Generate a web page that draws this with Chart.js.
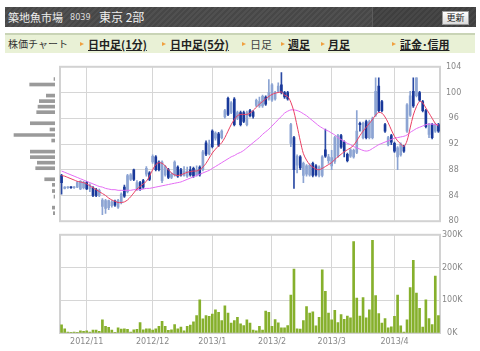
<!DOCTYPE html>
<html>
<head>
<meta charset="utf-8">
<script src="https://cdn.jsdelivr.net/npm/chart.js@4.4.1/dist/chart.umd.min.js"></script>
<style>
  body { margin: 0; width: 480px; height: 351px; background: #fff; position: relative; overflow: hidden; font-family: "Noto Sans CJK JP", sans-serif; }
  #hdr { position: absolute; left: 5px; top: 7px; width: 470px; height: 20px; background: repeating-linear-gradient(135deg, #505050 0 2px, #474747 2px 4px); }
  #hdr .side { position: absolute; left: 367px; top: 0; width: 103px; height: 20px; border-left: 1px solid #5c5c5c; background: repeating-linear-gradient(135deg, #474747 0 2px, #3f3f3f 2px 4px); }
  #hdr .t { position: absolute; top: 0; line-height: 20px; color: #eee; white-space: nowrap; }
  #btn { position: absolute; left: 437px; top: 4px; width: 25px; height: 12px; background: linear-gradient(#fff, #dcdcdc); border: 1px solid #999; font-size: 9px; line-height: 12px; text-align: center; color: #222; }
  #nav { position: absolute; left: 5px; top: 33px; width: 470px; height: 18px; background: #e9f1d6; border-top: 2px solid #c9d4b6; }
  #nav span { position: absolute; top: 0; line-height: 18px; white-space: nowrap; color: #222; }
  #nav .on { font-weight: bold; text-decoration: underline; font-size: 11px; }
  #nav i { position: absolute; top: 7px; width: 0; height: 0; border-left: 4px solid #f0a040; border-top: 2.5px solid transparent; border-bottom: 2.5px solid transparent; }
  canvas { position: absolute; }
</style>
</head>
<body>
<div id="hdr">
  <div class="side"></div>
  <span class="t" style="left:3px;font-size:11px">築地魚市場</span>
  <span class="t" style="left:65px;font-size:9px;font-family:'DejaVu Sans Condensed','DejaVu Sans';color:#ddd">8039</span>
  <span class="t" style="left:94px;font-size:12px">東京 2部</span>
  <div id="btn">更新</div>
</div>
<div id="nav">
  <span style="left:3px;font-size:10px;color:#333">株価チャート</span>
  <i style="left:75px"></i><span class="on" style="left:83px">日中足(1分)</span>
  <i style="left:157px"></i><span class="on" style="left:165px">日中足(5分)</span>
  <i style="left:237px"></i><span style="left:245px;font-size:11px;color:#444">日足</span>
  <i style="left:276px"></i><span class="on" style="left:283px">週足</span>
  <i style="left:316px"></i><span class="on" style="left:323px">月足</span>
  <i style="left:387px"></i><span class="on" style="left:395px">証金･信用</span>
</div>
<canvas id="hist" width="55" height="176" style="left:0;top:56px;width:55px;height:176px"></canvas>
<canvas id="price" width="480" height="176" style="left:0;top:56px;width:480px;height:176px"></canvas>
<canvas id="vol" width="480" height="123" style="left:0;top:228px;width:480px;height:123px"></canvas>
<script>
// trading days, 2012/10/22 .. 2013/4/19
const dates = [
  "2012/10/22","2012/10/23","2012/10/24","2012/10/25","2012/10/26","2012/10/29","2012/10/30","2012/10/31",
  "2012/11/1","2012/11/2","2012/11/5","2012/11/6","2012/11/7","2012/11/8","2012/11/9","2012/11/12","2012/11/13",
  "2012/11/14","2012/11/15","2012/11/16","2012/11/19","2012/11/20","2012/11/21","2012/11/22","2012/11/26",
  "2012/11/27","2012/11/28","2012/11/29","2012/11/30",
  "2012/12/3","2012/12/4","2012/12/5","2012/12/6","2012/12/7","2012/12/10","2012/12/11","2012/12/12","2012/12/13",
  "2012/12/14","2012/12/17","2012/12/18","2012/12/19","2012/12/20","2012/12/21","2012/12/25","2012/12/26",
  "2012/12/27","2012/12/28",
  "2013/1/4","2013/1/7","2013/1/8","2013/1/9","2013/1/10","2013/1/11","2013/1/15","2013/1/16","2013/1/17",
  "2013/1/18","2013/1/21","2013/1/22","2013/1/23","2013/1/24","2013/1/25","2013/1/28","2013/1/29","2013/1/30",
  "2013/1/31",
  "2013/2/1","2013/2/4","2013/2/5","2013/2/6","2013/2/7","2013/2/8","2013/2/12","2013/2/13","2013/2/14",
  "2013/2/15","2013/2/18","2013/2/19","2013/2/20","2013/2/21","2013/2/22","2013/2/25","2013/2/26","2013/2/27",
  "2013/2/28",
  "2013/3/1","2013/3/4","2013/3/5","2013/3/6","2013/3/7","2013/3/8","2013/3/11","2013/3/12","2013/3/13",
  "2013/3/14","2013/3/15","2013/3/18","2013/3/19","2013/3/21","2013/3/22","2013/3/25","2013/3/26","2013/3/27",
  "2013/3/28","2013/3/29",
  "2013/4/1","2013/4/2","2013/4/3","2013/4/4","2013/4/5","2013/4/8","2013/4/9","2013/4/10","2013/4/11",
  "2013/4/12","2013/4/15","2013/4/16","2013/4/17","2013/4/18","2013/4/19"
];

const openPrices = [
  87.1,85.1,85.2,85.3,85.2,85.3,85.0,85.2,86.0,85.0,85.2,84.9,84.0,82.3,82.0,82.1,82.4,83.1,82.2,82.9,
  85.3,84.6,86.5,88.0,85.0,86.0,86.3,87.3,87.5,89.2,90.0,89.2,86.3,87.2,88.0,86.8,87.2,88.4,88.0,87.1,
  87.0,88.0,88.2,87.2,88.4,88.0,92.2,90.5,94.0,92.9,93.6,93.0,96.2,99.1,96.9,99.0,96.0,96.9,96.9,95.0,
  97.2,97.0,98.0,97.9,97.9,99.3,99.0,98.8,99.0,100.2,101.2,100.0,100.0,92.1,93.0,88.7,90.0,87.1,87.3,87.2,
  89.0,88.6,87.1,87.1,91.1,89.4,88.6,89.3,90.1,93.3,92.3,90.4,90.1,90.0,90.7,95.2,93.0,95.5,93.0,93.0,
  96.5,101.0,98.6,95.0,91.9,93.3,92.1,90.0,90.3,91.6,94.0,96.5,100.2,99.5,100.0,98.6,97.2,93.5,95.0,94.0,
  95.0
];
const highPrices = [
  87.3,85.4,85.4,85.4,85.4,86.2,86.3,86.2,86.2,85.8,85.4,85.1,85.0,83.5,83.4,83.3,83.2,83.3,83.4,84.4,
  85.6,87.3,87.4,88.1,86.3,86.2,86.5,88.5,87.7,90.3,90.2,89.4,89.4,88.7,88.2,87.5,89.4,88.6,88.2,88.5,
  88.4,88.5,88.4,88.6,88.6,91.0,92.5,92.6,94.2,93.9,93.8,94.2,97.4,99.3,98.6,99.2,97.1,97.1,97.1,97.1,
  97.4,97.2,99.0,99.3,99.6,99.5,102.0,101.4,100.2,101.5,103.1,100.2,100.2,95.2,93.2,90.3,90.2,89.2,88.8,88.9,
  89.2,88.8,88.6,90.2,94.3,90.4,91.0,93.2,93.5,93.5,92.5,90.6,91.3,91.2,97.2,95.4,95.4,95.7,95.7,96.2,
  102.3,102.3,98.8,95.2,93.2,93.5,92.3,91.6,92.2,91.8,98.3,100.2,102.3,102.3,100.2,98.8,97.4,95.2,95.2,95.2,
  95.2
];
const lowPrices = [
  84.2,85.0,85.1,85.1,85.1,85.2,84.9,85.0,84.9,84.6,83.8,83.8,83.8,81.0,81.2,81.8,82.2,82.3,82.0,82.7,
  83.7,84.4,86.3,86.3,84.8,84.8,85.1,87.0,86.3,89.0,87.8,87.8,86.0,87.0,86.6,86.6,87.0,86.8,87.0,87.0,
  86.8,87.0,86.8,87.0,87.0,87.8,90.2,90.3,91.4,92.6,91.6,92.8,96.0,96.4,96.7,94.8,95.8,94.8,95.3,94.8,
  96.2,96.0,97.8,97.7,97.7,98.0,98.8,98.6,98.8,100.0,99.8,99.1,98.8,91.6,85.1,87.5,88.0,86.0,87.0,87.0,
  86.9,87.0,86.9,86.9,89.9,89.0,88.0,89.0,89.9,91.3,90.0,89.2,89.9,89.8,90.5,94.0,92.8,92.8,92.8,92.8,
  96.3,97.0,97.0,93.8,91.7,91.9,90.7,88.0,90.1,90.7,93.8,96.3,97.7,99.3,98.6,97.0,94.5,93.0,92.8,93.8,
  93.8
];
const closePrices = [
  86.0,85.3,85.3,85.2,85.3,86.0,86.2,86.0,85.0,85.6,84.0,84.0,84.8,83.3,83.2,83.2,83.0,82.5,83.2,84.2,
  83.9,87.1,87.2,86.5,86.0,85.0,85.3,88.2,86.5,90.1,88.0,88.0,89.2,88.5,86.8,87.3,89.2,87.0,87.2,87.8,
  87.8,87.2,87.0,88.0,87.2,90.8,90.4,92.0,91.6,93.7,91.8,94.0,97.2,96.6,98.4,95.0,96.9,95.0,95.5,96.9,
  96.4,96.3,98.8,98.6,99.4,98.2,100.0,101.2,100.0,101.0,100.0,99.3,99.0,95.0,88.0,90.1,88.3,89.0,88.6,88.7,
  87.1,87.2,88.4,90.0,90.1,90.0,89.9,93.0,93.3,91.5,90.9,89.4,91.1,91.0,94.0,95.0,95.2,93.0,95.5,96.0,
  100.2,97.2,97.2,94.0,93.0,92.3,90.9,91.4,92.0,90.9,98.1,99.5,97.9,102.3,98.8,97.2,94.7,95.0,93.0,95.0,
  94.0
];

// moving averages (short: red, long: violet)
const avgShort = [
  87.1,87.0,86.8,86.6,86.4,86.2,86.1,86.0,85.8,85.5,85.2,84.9,84.6,84.3,84.0,83.6,83.3,83.1,82.9,82.9,
  83.0,83.3,83.8,84.4,85.0,85.4,85.8,86.2,87.0,88.0,88.8,89.1,89.0,88.6,88.0,87.5,87.2,87.1,87.2,87.4,
  87.6,87.7,87.8,87.8,88.0,88.4,89.0,89.8,90.6,91.2,91.7,92.2,93.0,94.0,95.0,95.8,96.4,96.6,96.6,96.6,
  96.8,97.2,97.7,98.2,98.6,99.0,99.4,99.7,99.9,100.0,100.1,99.6,99.4,98.5,97.0,94.8,92.5,90.5,89.5,88.8,
  88.4,88.1,88.0,88.2,88.5,88.8,89.1,89.6,90.0,90.4,90.8,91.1,91.4,91.8,92.5,93.3,94.0,94.6,95.2,95.8,
  96.5,96.9,96.8,96.2,95.3,94.2,93.2,92.5,92.0,91.6,92.5,94.5,96.5,97.8,98.6,98.4,97.6,96.8,96.0,95.2,
  94.8
];
const avgLong = [
  87.8,87.6,87.4,87.2,87.0,86.8,86.6,86.4,86.2,86.0,85.8,85.6,85.4,85.3,85.1,85.0,84.9,84.9,84.8,84.8,
  84.8,84.8,84.8,84.9,84.9,84.9,85.0,85.1,85.1,85.2,85.3,85.4,85.5,85.6,85.7,85.8,85.9,86.0,86.1,86.3,
  86.5,86.7,86.9,87.1,87.3,87.5,87.7,87.9,88.2,88.5,88.8,89.1,89.4,89.7,90.0,90.2,90.5,90.7,91.0,91.4,
  91.8,92.2,92.6,93.0,93.5,93.9,94.3,94.8,95.3,95.8,96.3,96.8,97.1,97.3,97.3,97.2,97.0,96.7,96.4,96.0,
  95.6,95.2,94.8,94.5,94.2,94.0,93.7,93.4,93.0,92.7,92.4,92.1,91.9,91.6,91.4,91.2,91.0,90.9,91.0,91.3,
  91.6,91.9,92.1,92.3,92.5,92.7,92.9,93.0,93.1,93.2,93.4,93.8,94.1,94.4,94.6,94.8,95.0,95.1,95.1,95.0,
  95.0
];

// volume, thousand shares
const volumes = [
  25,13,3,1,3,1,7,5,7,3,9,9,5,40,20,17,9,1,16,12,
  13,11,3,10,11,32,10,13,13,9,13,20,36,20,8,10,26,13,18,7,
  20,24,34,53,101,43,53,51,58,71,63,38,83,61,30,38,48,28,23,40,
  30,9,7,20,9,67,63,20,41,31,16,16,23,116,195,13,12,38,81,61,
  65,22,48,193,127,61,40,69,32,56,42,52,46,279,107,52,108,46,71,283,
  114,59,30,44,16,19,51,116,22,3,40,139,222,122,75,18,101,44,26,174,
  53
];

// volume by price (left histogram)
const priceLevels = [101.4,100.6,99.0,98.2,97.4,96.6,95.0,94.1,93.3,92.5,90.9,90.1,89.3,88.5,86.9,86.1,85.2,84.4,82.8,82.0];
const levelVolumes = [10,253,87,157,170,183,247,50,410,33,247,247,177,193,103,27,27,10,27,17];

const priceMin = 80, priceMax = 104, priceStep = 4;
const volMax = 300, volStep = 100;

const monthStarts = dates.map((d, i) => i > 0 && d.split("/")[1] !== dates[i - 1].split("/")[1]);
const monthLabel = (i) => (monthStarts[i] ? dates[i].slice(0, dates[i].lastIndexOf("/")) : "");
const isUp = closePrices.map((c, i) => c >= openPrices[i]);
const gridColor = "#d6d6d6";
const tickFont = { family: "DejaVu Sans", size: 8 };

const frame = {
  id: "frame",
  beforeDatasetsDraw(chart) {
    const { ctx, chartArea: a } = chart;
    ctx.save();
    ctx.strokeStyle = "#d2d2d2";
    ctx.lineWidth = 2;
    ctx.strokeRect(a.left, a.top, a.right - a.left, a.bottom - a.top);
    ctx.restore();
  },
};

Chart.defaults.animation = false;
Chart.defaults.plugins.legend.display = false;
Chart.defaults.plugins.tooltip.enabled = false;
Chart.defaults.responsive = false;

const monthGrid = {
  offset: false,
  drawTicks: false,
  color: (c) => (monthStarts[c.index] ? gridColor : "rgba(0,0,0,0)"),
};

new Chart(document.getElementById("price"), {
  type: "bar",
  data: {
    labels: dates,
    datasets: [
      { type: "line", data: avgShort, borderColor: "#ea3f63", borderWidth: 1, pointRadius: 0, tension: 0.3 },
      { type: "line", data: avgLong, borderColor: "#e46cf4", borderWidth: 1, pointRadius: 0, tension: 0.3 },
      {
        data: openPrices.map((o, i) => [o, closePrices[i]]),
        backgroundColor: isUp.map((u) => (u ? "#8ca4d3" : "#18389a")),
        barThickness: 2, minBarLength: 1, grouped: false,
      },
      {
        data: lowPrices.map((l, i) => [l, highPrices[i]]),
        backgroundColor: isUp.map((u) => (u ? "#8ca4d3" : "#2a4aa4")),
        barThickness: 1, grouped: false,
      },
    ],
  },
  options: {
    layout: { padding: { left: 60, top: 5, bottom: 5, right: 0 } },
    scales: {
      x: {
        grid: monthGrid,
        border: { display: false },
        ticks: { display: false, autoSkip: false },
        afterFit: (s) => { s.height = 0; },
      },
      y: {
        position: "right",
        min: priceMin, max: priceMax,
        grid: { color: gridColor, drawTicks: false },
        border: { display: false },
        ticks: { stepSize: priceStep, font: tickFont, color: "#888", padding: 6, crossAlign: "center" },
        afterFit: (s) => { s.width = 40; },
      },
    },
  },
  plugins: [frame],
});

new Chart(document.getElementById("vol"), {
  type: "bar",
  data: {
    labels: dates,
    datasets: [{ data: volumes, backgroundColor: "#86b02c", barThickness: 2 }],
  },
  options: {
    layout: { padding: { left: 60, top: 4, bottom: 0, right: 0 } },
    scales: {
      x: {
        grid: monthGrid,
        border: { display: false },
        ticks: { autoSkip: false, maxRotation: 0, minRotation: 0, font: tickFont, color: "#888", padding: 4, callback: (v, i) => monthLabel(i) },
        afterFit: (s) => { s.height = 18; },
      },
      y: {
        position: "right",
        min: 0, max: volMax,
        grid: { color: gridColor, drawTicks: false },
        border: { display: false },
        ticks: { stepSize: volStep, font: tickFont, color: "#888", padding: 2, crossAlign: "center", callback: (v) => v + "K" },
        afterFit: (s) => { s.width = 40; },
      },
    },
  },
  plugins: [frame],
});

new Chart(document.getElementById("hist"), {
  type: "bar",
  data: {
    datasets: [{
      data: priceLevels.map((p, i) => ({ x: levelVolumes[i], y: p })),
      backgroundColor: "#9a9a9a",
      barThickness: 3,
    }],
  },
  options: {
    indexAxis: "y",
    layout: { padding: { top: 5, bottom: 5, left: 0, right: 0 } },
    scales: {
      x: { display: false, reverse: true, min: 0, max: 550 },
      y: { display: false, type: "linear", offset: false, min: priceMin, max: priceMax },
    },
  },
});
</script>
</body>
</html>
